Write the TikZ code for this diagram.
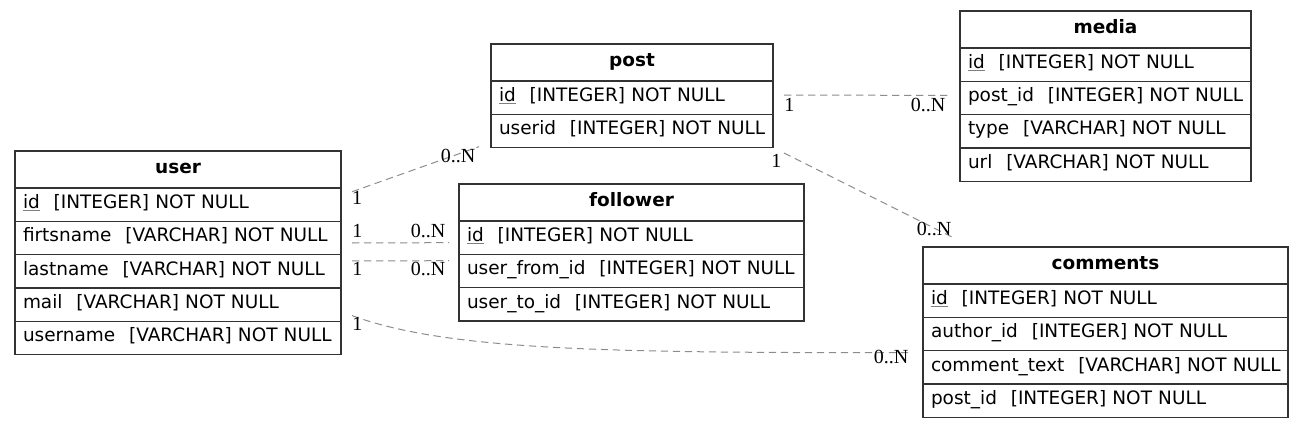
\documentclass[tikz,border=0pt]{standalone}
\usepackage{fontspec}
\usetikzlibrary{positioning}
\newfontfamily\dejavu{DejaVu Sans}
\newfontfamily\serifl{Liberation Serif}
\newcommand{\tblfont}{\dejavu\fontsize{13.85}{17}\selectfont}
\newcommand{\pkey}[1]{{\color{gray}\underline{\color{black}#1}}}
\newcommand{\field}[2]{\mbox{#1\hspace{0.75em}[#2] NOT NULL}}

\begin{document}
\begin{tikzpicture}[x=0.75pt, y=-0.75pt,
    tblhead/.style={draw=black!80, line width=1pt, outer sep=0pt, minimum width=#1, minimum height=27.75pt, inner sep=0pt, text height=9.5pt, text depth=4pt, font=\tblfont\bfseries, anchor=north west},
    tblrow/.style={draw=black!80, line width=1pt, outer sep=0pt, text width=#1, inner xsep=6pt, inner ysep=0pt, minimum height=25pt, text height=9.5pt, text depth=4pt, align=left, font=\tblfont},
    rel/.style={draw=black!45, line width=0.75pt, dash pattern=on 5.5pt off 3.5pt},
    card/.style={font=\serifl\fontsize{15}{15}\selectfont, inner sep=0pt}]
        \useasboundingbox (0,0) rectangle (1304,428);

        % Tables
        \node[tblhead=244.5pt] (user-h) at (15,151) {user};
        \node[tblrow=232.5pt, below=0pt of user-h] (user-id) {\field{\pkey{id}}{INTEGER}};
        \node[tblrow=232.5pt, below=0pt of user-id] (user-first) {\field{firtsname}{VARCHAR}};
        \node[tblrow=232.5pt, below=0pt of user-first] (user-last) {\field{lastname}{VARCHAR}};
        \node[tblrow=232.5pt, below=0pt of user-last] (user-mail) {\field{mail}{VARCHAR}};
        \node[tblrow=232.5pt, below=0pt of user-mail] (user-name) {\field{username}{VARCHAR}};

        \node[tblhead=211.5pt] (post-h) at (491,44) {post};
        \node[tblrow=199.5pt, below=0pt of post-h] (post-id) {\field{\pkey{id}}{INTEGER}};
        \node[tblrow=199.5pt, below=0pt of post-id] (post-userid) {\field{userid}{INTEGER}};

        \node[tblhead=258.75pt] (follower-h) at (459,184) {follower};
        \node[tblrow=246.75pt, below=0pt of follower-h] (follower-id) {\field{\pkey{id}}{INTEGER}};
        \node[tblrow=246.75pt, below=0pt of follower-id] (follower-from) {\field{user\_from\_id}{INTEGER}};
        \node[tblrow=246.75pt, below=0pt of follower-from] (follower-to) {\field{user\_to\_id}{INTEGER}};

        \node[tblhead=218.25pt] (media-h) at (960,11) {media};
        \node[tblrow=206.25pt, below=0pt of media-h] (media-id) {\field{\pkey{id}}{INTEGER}};
        \node[tblrow=206.25pt, below=0pt of media-id] (media-post) {\field{post\_id}{INTEGER}};
        \node[tblrow=206.25pt, below=0pt of media-post] (media-type) {\field{type}{VARCHAR}};
        \node[tblrow=206.25pt, below=0pt of media-type] (media-url) {\field{url}{VARCHAR}};

        \node[tblhead=273.75pt] (comments-h) at (923,247) {comments};
        \node[tblrow=261.75pt, below=0pt of comments-h] (comments-id) {\field{\pkey{id}}{INTEGER}};
        \node[tblrow=261.75pt, below=0pt of comments-id] (comments-author) {\field{author\_id}{INTEGER}};
        \node[tblrow=261.75pt, below=0pt of comments-author] (comments-text) {\field{comment\_text}{VARCHAR}};
        \node[tblrow=261.75pt, below=0pt of comments-text] (comments-post) {\field{post\_id}{INTEGER}};

        % Relations
        \draw[rel] ([xshift=8.25pt, yshift=-2.8pt]user-id.north east) -- ([xshift=-9pt, yshift=0.75pt]post-userid.south west)
            node[card, pos=0, xshift=3.75pt, yshift=-4.7pt] {1}
            node[card, pos=1, xshift=-15.75pt, yshift=-6.75pt] {0..N};
        \draw[rel] ([xshift=8.25pt, yshift=-3.75pt]user-first.east) -- ([xshift=-7.5pt, yshift=-3.75pt]follower-id.west)
            node[card, pos=0, xshift=4.1pt, yshift=9pt] {1}
            node[card, pos=1, xshift=-15.75pt, yshift=9pt] {0..N};
        \draw[rel] ([xshift=8.25pt, yshift=7.9pt]user-last.east) -- ([xshift=-7.5pt, yshift=7.7pt]follower-from.west)
            node[card, pos=0, xshift=4.1pt, yshift=-6pt] {1}
            node[card, pos=1, xshift=-15.75pt, yshift=-6pt] {0..N};
        \draw[rel] ([xshift=8.25pt, yshift=4.3pt]user-name.north east) .. controls +(98,36) and +(-292,0) .. ([xshift=-8.25pt, yshift=-1.5pt]comments-text.north west)
            node[card, pos=0, xshift=4.1pt, yshift=-6pt] {1}
            node[card, pos=1, xshift=-15.75pt, yshift=-3.6pt] {0..N};
        \draw[rel] ([xshift=8.25pt, yshift=1.9pt]post-id.east) -- ([xshift=-8.25pt, yshift=2pt]media-post.west)
            node[card, pos=0, xshift=4.1pt, yshift=-7.3pt] {1}
            node[card, pos=1, xshift=-15.75pt, yshift=-7.3pt] {0..N};
        \draw[rel] ([xshift=8.25pt, yshift=-4pt]post-userid.south east) -- ([xshift=21.75pt, yshift=7.5pt]comments-h.north west)
            node[card, pos=0, xshift=-5.7pt, yshift=-6.1pt] {1}
            node[card, pos=1, xshift=-13.5pt, yshift=6.2pt] {0..N};
    \end{tikzpicture}
\end{document}
